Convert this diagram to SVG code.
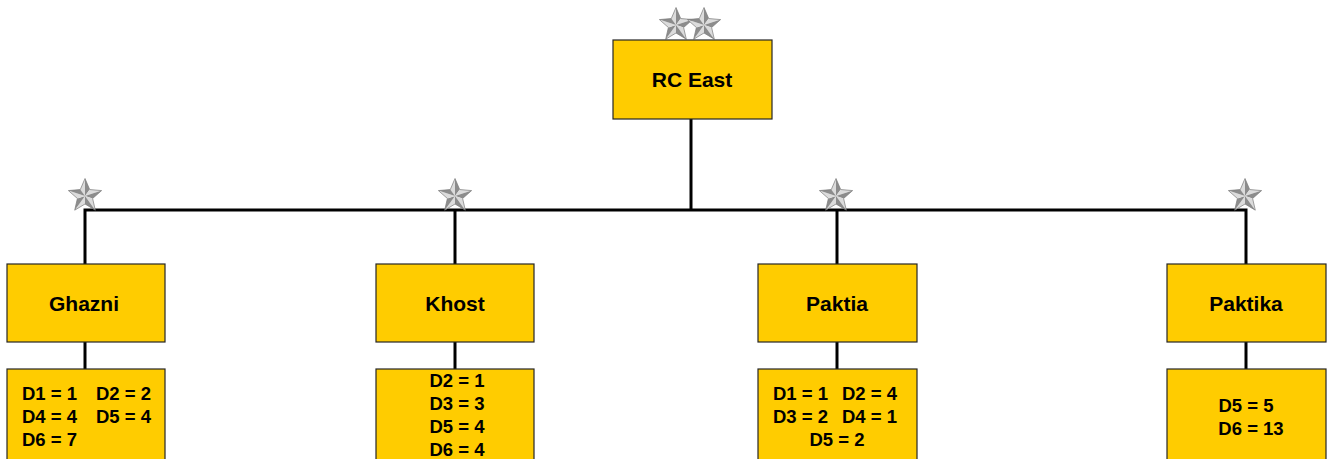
<svg xmlns="http://www.w3.org/2000/svg" width="1331" height="459" viewBox="0 0 1331 459">
  <style>
    .box { fill: #FFCC00; stroke: #262626; stroke-width: 1.2; }
    .title { font-family: "Liberation Sans", Arial, sans-serif; font-weight: bold; font-size: 21px; fill: #000; text-anchor: middle; }
    .stat { font-family: "Liberation Sans", Arial, sans-serif; font-weight: bold; font-size: 18.5px; fill: #000; }
    .mid { text-anchor: middle; }
    .wire { stroke: #000; stroke-width: 3; fill: none; }
    .lt { fill: #dcdcdc; }
    .dk { fill: #8c8c8c; }
  </style>
  <defs>
    <!-- faceted silver rank star, centred on the origin -->
    <g id="star">
      <polygon class="lt" points="0,0 0,-17.5 -4.7,-6.47"/>
      <polygon class="dk" points="0,0 0,-17.5 4.7,-6.47"/>
      <polygon class="lt" points="0,0 16.64,-5.41 4.7,-6.47"/>
      <polygon class="dk" points="0,0 16.64,-5.41 7.61,2.47"/>
      <polygon class="lt" points="0,0 10.29,14.16 7.61,2.47"/>
      <polygon class="dk" points="0,0 10.29,14.16 0,8"/>
      <polygon class="lt" points="0,0 -10.29,14.16 0,8"/>
      <polygon class="dk" points="0,0 -10.29,14.16 -7.61,2.47"/>
      <polygon class="lt" points="0,0 -16.64,-5.41 -7.61,2.47"/>
      <polygon class="dk" points="0,0 -16.64,-5.41 -4.7,-6.47"/>
      <polygon points="0,-17.5 4.7,-6.47 16.64,-5.41 7.61,2.47 10.29,14.16 0,8 -10.29,14.16 -7.61,2.47 -16.64,-5.41 -4.7,-6.47" fill="none" stroke="#7a7a7a" stroke-width="0.7"/>
    </g>
  </defs>

  <!-- connectors -->
  <g id="connectors">
    <line class="wire" x1="691" y1="119" x2="691" y2="210"/>
    <polyline class="wire" points="85,264 85,210 1246,210 1246,264"/>
    <line class="wire" x1="455" y1="210" x2="455" y2="264"/>
    <line class="wire" x1="837" y1="210" x2="837" y2="264"/>
    <line class="wire" x1="85" y1="342" x2="85" y2="369"/>
    <line class="wire" x1="455" y1="342" x2="455" y2="369"/>
    <line class="wire" x1="837" y1="342" x2="837" y2="369"/>
    <line class="wire" x1="1246" y1="342" x2="1246" y2="369"/>
  </g>

  <!-- rank stars -->
  <g id="stars">
    <use href="#star" transform="translate(676,25)"/>
    <use href="#star" transform="translate(704,25)"/>
    <use href="#star" transform="translate(85,196)"/>
    <use href="#star" transform="translate(455,196)"/>
    <use href="#star" transform="translate(836,196)"/>
    <use href="#star" transform="translate(1245,196)"/>
  </g>

  <g id="rc-east">
    <rect class="box" x="613" y="40" width="159" height="79"/>
    <text class="title" x="692" y="87">RC East</text>
  </g>

  <g id="ghazni">
    <rect class="box" x="7" y="264" width="158" height="78"/>
    <text class="title" x="84" y="311">Ghazni</text>
  </g>
  <g id="ghazni-stats">
    <rect class="box" x="7" y="369" width="158" height="100"/>
    <text class="stat" x="22" y="400">D1 = 1</text>
    <text class="stat" x="96" y="400">D2 = 2</text>
    <text class="stat" x="22" y="423">D4 = 4</text>
    <text class="stat" x="96" y="423">D5 = 4</text>
    <text class="stat" x="22" y="446">D6 = 7</text>
  </g>

  <g id="khost">
    <rect class="box" x="376" y="264" width="158" height="78"/>
    <text class="title" x="455" y="311">Khost</text>
  </g>
  <g id="khost-stats">
    <rect class="box" x="376" y="369" width="158" height="100"/>
    <text class="stat mid" x="457" y="387">D2 = 1</text>
    <text class="stat mid" x="457" y="410">D3 = 3</text>
    <text class="stat mid" x="457" y="433">D5 = 4</text>
    <text class="stat mid" x="457" y="456">D6 = 4</text>
  </g>

  <g id="paktia">
    <rect class="box" x="758" y="264" width="159" height="78"/>
    <text class="title" x="837" y="311">Paktia</text>
  </g>
  <g id="paktia-stats">
    <rect class="box" x="758" y="369" width="159" height="100"/>
    <text class="stat" x="773" y="400">D1 = 1</text>
    <text class="stat" x="842" y="400">D2 = 4</text>
    <text class="stat" x="773" y="423">D3 = 2</text>
    <text class="stat" x="842" y="423">D4 = 1</text>
    <text class="stat mid" x="837" y="446">D5 = 2</text>
  </g>

  <g id="paktika">
    <rect class="box" x="1167" y="264" width="159" height="78"/>
    <text class="title" x="1246" y="311">Paktika</text>
  </g>
  <g id="paktika-stats">
    <rect class="box" x="1167" y="369" width="159" height="100"/>
    <text class="stat mid" x="1246" y="412">D5 = 5</text>
    <text class="stat mid" x="1251" y="435">D6 = 13</text>
  </g>
</svg>
